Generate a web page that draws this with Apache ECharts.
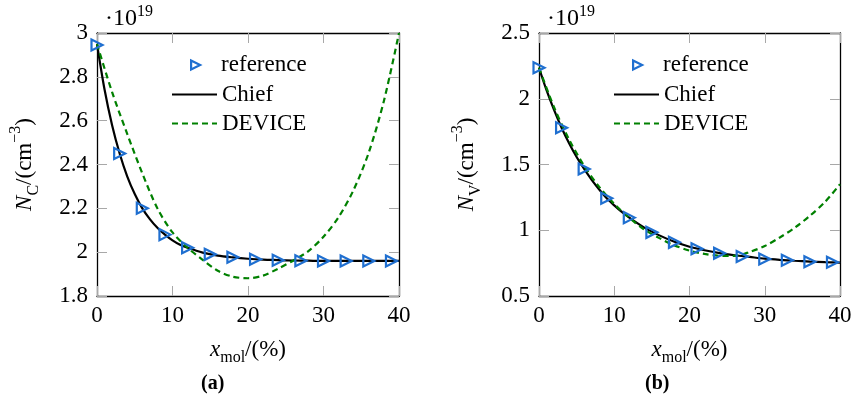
<!DOCTYPE html>
<html>
<head>
<meta charset="utf-8">
<script src="https://cdn.jsdelivr.net/npm/echarts@6/dist/echarts.min.js"></script>
<style>
  html, body { margin: 0; padding: 0; background: #fff; }
  #chart { width: 860px; height: 406px; }
</style>
</head>
<body>
<div id="chart"></div>
<script>
// Composition x_mol (%) shared by both panels
const xTicks = [0, 10, 20, 30, 40];
const refX = [0, 3, 6, 9, 12, 15, 18, 21, 24, 27, 30, 33, 36, 39];
const chiefX = [0, 1, 2, 3, 4, 5, 6, 7, 8, 9, 10, 11, 12, 14, 16, 18, 20, 22, 24, 26, 28, 30, 32, 34, 36, 38, 40];
const deviceX = [0, 2, 4, 6, 8, 10, 12, 14, 16, 18, 20, 22, 24, 26, 28, 30, 32, 34, 36, 38, 40];

// (a) effective density of states, conduction band, in 1e19 cm^-3
const ncTicks = [1.8, 2, 2.2, 2.4, 2.6, 2.8, 3];
const ncReference = [2.945, 2.45, 2.2, 2.08, 2.02, 1.99, 1.977, 1.968, 1.963, 1.961, 1.96, 1.96, 1.96, 1.96];
const ncChief = [2.95, 2.742, 2.579, 2.45, 2.346, 2.265, 2.2, 2.151, 2.111, 2.08, 2.054, 2.034, 2.02, 1.998, 1.984, 1.976, 1.97, 1.966, 1.964, 1.962, 1.961, 1.96, 1.96, 1.96, 1.96, 1.96, 1.96];
const ncDevice = [2.95, 2.73, 2.54, 2.36, 2.2, 2.09, 2.02, 1.965, 1.915, 1.888, 1.881, 1.893, 1.925, 1.962, 2.005, 2.07, 2.16, 2.285, 2.455, 2.69, 3.0];

// (b) effective density of states, valence band, in 1e19 cm^-3
const nvTicks = [0.5, 1, 1.5, 2, 2.5];
const nvReference = [2.236, 1.78, 1.466, 1.243, 1.096, 0.984, 0.908, 0.86, 0.825, 0.8, 0.782, 0.772, 0.761, 0.756];
const nvChief = [2.236, 2.065, 1.915, 1.78, 1.662, 1.557, 1.466, 1.383, 1.31, 1.243, 1.189, 1.139, 1.096, 1.02, 0.961, 0.912, 0.875, 0.848, 0.826, 0.81, 0.797, 0.784, 0.775, 0.768, 0.762, 0.757, 0.754];
const nvDevice = [2.236, 1.935, 1.69, 1.49, 1.33, 1.2, 1.095, 1.005, 0.94, 0.885, 0.845, 0.82, 0.806, 0.805, 0.835, 0.88, 0.945, 1.02, 1.11, 1.215, 1.35];

const FONT = '"Liberation Serif", "DejaVu Serif", serif';
const FS = 23;
const BLUE = '#1f6fd0';
const GREEN = '#008000';
const TICK = '#a8a8a8';
const AXIS_LINE = { show: true, onZero: false, lineStyle: { color: '#000', width: 1.3 } };
const RIGHT_TRIANGLE = 'path://M0,0 L10,5 L0,10 Z';

const pairs = (xs, ys) => xs.map((x, i) => [x, ys[i]]);

const grids = [
  { left: 97, top: 33, width: 302, height: 263 },
  { left: 539, top: 33, width: 301, height: 263 }
];

function xAxes(gi) {
  const base = {
    type: 'value', gridIndex: gi, min: xTicks[0], max: xTicks[xTicks.length - 1],
    splitLine: { show: false },
    axisTick: { inside: true, length: 10, lineStyle: { color: TICK }, customValues: xTicks },
    axisLine: AXIS_LINE
  };
  return [
    Object.assign({}, base, {
      position: 'bottom',
      axisLabel: { color: '#000', fontFamily: FONT, fontSize: FS, margin: 8, customValues: xTicks },
      name: '{it|x}{sub|mol}{n|/(%)}',
      nameLocation: 'middle', nameGap: 38,
      nameTextStyle: {
        fontFamily: FONT, fontSize: FS, color: '#000',
        rich: {
          it: { fontFamily: FONT, fontSize: FS, fontStyle: 'italic', lineHeight: 32 },
          sub: { fontFamily: FONT, fontSize: 16, verticalAlign: 'bottom', lineHeight: 16 },
          n: { fontFamily: FONT, fontSize: FS, lineHeight: 32 }
        }
      }
    }),
    Object.assign({}, base, { position: 'top', axisLabel: { show: false } })
  ];
}

function yAxes(gi, ticks, sub) {
  const base = {
    type: 'value', gridIndex: gi, min: ticks[0], max: ticks[ticks.length - 1],
    splitLine: { show: false },
    axisTick: { inside: true, length: 10, lineStyle: { color: TICK }, customValues: ticks },
    axisLine: AXIS_LINE
  };
  return [
    Object.assign({}, base, {
      position: 'left',
      axisLabel: { color: '#000', fontFamily: FONT, fontSize: FS, margin: 9, customValues: ticks },
      name: '{it|N}{sub|' + sub + '}{n|/(cm}{sup|−3}{n|)}',
      nameLocation: 'middle', nameGap: 55, nameRotate: 90,
      nameTextStyle: {
        fontFamily: FONT, fontSize: FS, color: '#000',
        rich: {
          it: { fontFamily: FONT, fontSize: FS, fontStyle: 'italic', lineHeight: 34 },
          sub: { fontFamily: FONT, fontSize: 16, verticalAlign: 'bottom', lineHeight: 16 },
          n: { fontFamily: FONT, fontSize: FS, lineHeight: 34 },
          sup: { fontFamily: FONT, fontSize: 16, verticalAlign: 'top', lineHeight: 16 }
        }
      }
    }),
    Object.assign({}, base, { position: 'right', axisLabel: { show: false } })
  ];
}

function seriesFor(gi, refY, chiefY, devY) {
  const xi = gi * 2, yi = gi * 2;
  return [
    {
      name: 'reference', type: 'scatter', xAxisIndex: xi, yAxisIndex: yi,
      data: pairs(refX, refY),
      symbol: 'triangle', symbolRotate: -90, symbolSize: 11,
      itemStyle: { color: 'rgba(0,0,0,0)', borderColor: BLUE, borderWidth: 2.2, opacity: 1 },
      z: 5, silent: true
    },
    {
      name: 'Chief', type: 'line', xAxisIndex: xi, yAxisIndex: yi,
      data: pairs(chiefX, chiefY), smooth: 0.3,
      showSymbol: false, symbol: 'none',
      lineStyle: { color: '#000', width: 2.2 }, itemStyle: { color: '#000' },
      z: 3, silent: true
    },
    {
      name: 'DEVICE', type: 'line', xAxisIndex: xi, yAxisIndex: yi,
      data: pairs(deviceX, devY), smooth: 0.3,
      showSymbol: false, symbol: 'none',
      lineStyle: { color: GREEN, width: 2.2, type: [6, 4] }, itemStyle: { color: GREEN },
      z: 4, silent: true
    }
  ];
}

const legendText = { fontFamily: FONT, fontSize: FS, color: '#000' };

// Marker entry and the two line entries are laid out as separate legend blocks
function legendsAt(left) {
  return [
    {
      left: left + 14, top: 48.5, orient: 'vertical',
      itemWidth: 9, itemHeight: 10, selectedMode: false,
      data: [{
        name: 'reference', icon: RIGHT_TRIANGLE,
        itemStyle: { color: 'rgba(0,0,0,0)', borderColor: BLUE, borderWidth: 2.2 }
      }],
      textStyle: Object.assign({ padding: [0, 0, 0, 16] }, legendText)
    },
    {
      left: left - 5, top: 78, orient: 'vertical',
      itemWidth: 45, itemHeight: 11, itemGap: 6, selectedMode: false,
      data: [
        { name: 'Chief', itemStyle: { opacity: 0 } },
        { name: 'DEVICE', itemStyle: { opacity: 0 } }
      ],
      textStyle: legendText
    }
  ];
}

const expRich = {
  a: { fontFamily: FONT, fontSize: 24, lineHeight: 30 },
  b: { fontFamily: FONT, fontSize: 16, verticalAlign: 'top', lineHeight: 16 }
};

const chart = echarts.init(document.getElementById('chart'), null, { renderer: 'canvas' });
chart.setOption({
  backgroundColor: '#fff',
  animation: false,
  grid: grids.map(g => Object.assign({ show: false, outerBoundsMode: 'none', containLabel: false }, g)),
  xAxis: [...xAxes(0), ...xAxes(1)],
  yAxis: [...yAxes(0, ncTicks, 'C'), ...yAxes(1, nvTicks, 'V')],
  legend: [...legendsAt(171), ...legendsAt(613)],
  series: [
    ...seriesFor(0, ncReference, ncChief, ncDevice),
    ...seriesFor(1, nvReference, nvChief, nvDevice)
  ],
  graphic: [
    { type: 'text', left: 105, top: 4, style: { text: '{a|·10}{b|19}', rich: expRich, fill: '#000' } },
    { type: 'text', left: 547, top: 4, style: { text: '{a|·10}{b|19}', rich: expRich, fill: '#000' } },
    { type: 'text', left: 201, top: 374, style: { text: '(a)', fill: '#000', font: 'bold 20px ' + FONT } },
    { type: 'text', left: 645, top: 374, style: { text: '(b)', fill: '#000', font: 'bold 20px ' + FONT } }
  ]
});
</script>
</body>
</html>
